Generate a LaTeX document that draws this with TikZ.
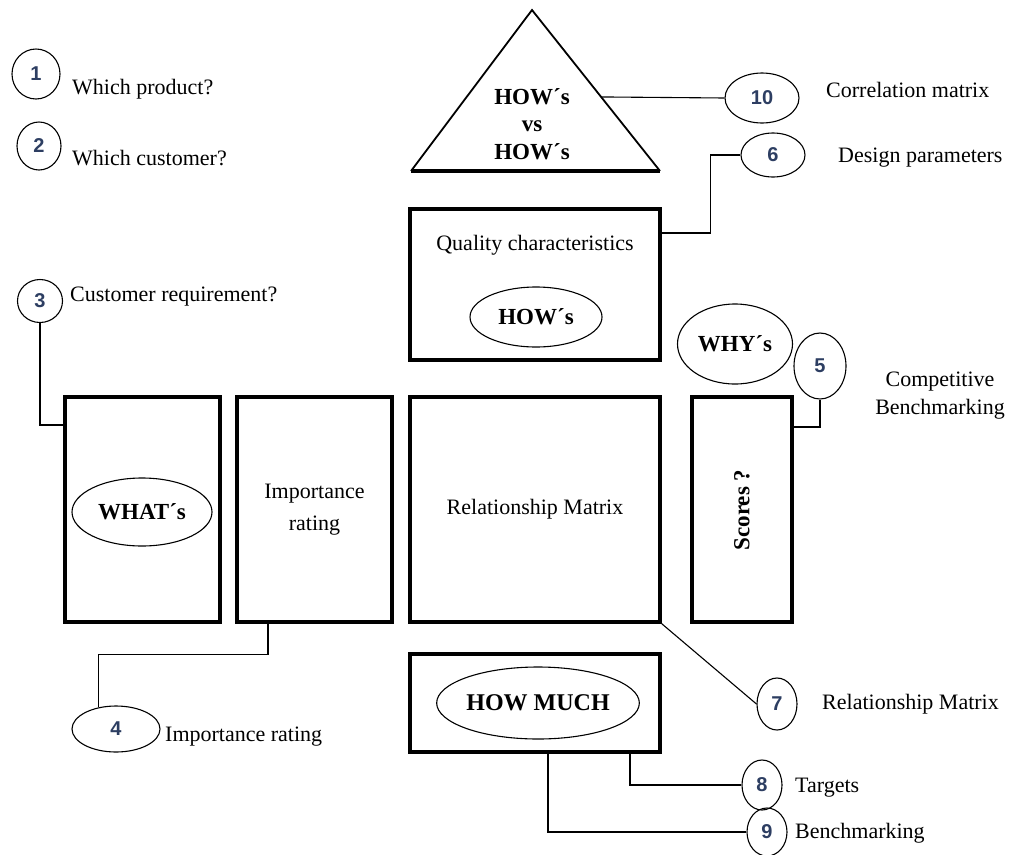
\documentclass[tikz,border=0pt]{standalone}
\usepackage{fontspec}
\setmainfont{Liberation Serif}
\newfontfamily\numfont{Liberation Sans}
\usetikzlibrary{positioning,shapes,calc}
\definecolor{numblue}{RGB}{45,62,98}

\tikzset{
  bigbox/.style={draw, line width=3.2pt, inner sep=0pt},
  oval/.style={draw, ellipse, line width=1.1pt, inner sep=0pt, font=\fontsize{23}{27}\selectfont\bfseries},
  numoval/.style={draw, ellipse, line width=1.1pt, inner sep=0pt, text=numblue, font=\numfont\fontsize{20}{23}\selectfont\bfseries},
  lbl/.style={anchor=west, inner sep=0pt, font=\fontsize{22}{26}\selectfont},
  link/.style={line width=1.1pt}
}

\begin{document}
\begin{tikzpicture}[x=1pt,y=-1pt]
      \useasboundingbox (0,0) rectangle (1017,854);
      \coordinate (apex) at (532,10);
      \coordinate (tl) at (411,171);
      \coordinate (tr) at (660,171);
      \draw[line width=1.8pt, line join=miter] (tl) -- (apex) -- (tr);
      \draw[line width=3.5pt] (tl) -- (tr);
      \node[align=center, font=\fontsize{23}{27.5}\selectfont\bfseries] (hvh) at (532,124) {HOW´s\\vs\\HOW´s};
      \coordinate (c10) at ($(apex)!0.54!(tr)$);

      \node[bigbox, minimum width=250pt, minimum height=151pt] (quality) at (535,284.5) {};
      \node[lbl, anchor=center] (qtext) at (535,245) {Quality characteristics};
      \node[oval, minimum width=132pt, minimum height=60pt] (hows) at (536,317) {HOW´s};
      \node[oval, minimum width=115pt, minimum height=80pt] (whys) at (735,344) {WHY´s};

      \node[bigbox, minimum width=155pt, minimum height=225pt] (what) at (142.5,509.5) {};
      \node[oval, minimum width=140pt, minimum height=68pt] (whats) at (142,512) {WHAT´s};
      \node[bigbox, minimum width=155pt, minimum height=225pt, align=center, font=\fontsize{22}{32}\selectfont] (imp) at (314.5,509.5) {Importance\\rating};
      \node[bigbox, minimum width=250pt, minimum height=225pt, font=\fontsize{22}{26}\selectfont] (rel) at (535,509.5) {Relationship Matrix};
      \node[bigbox, minimum width=100pt, minimum height=225pt] (scores) at (742,509.5) {};
      \node[rotate=90, font=\fontsize{23}{27}\selectfont\bfseries] (stext) at (742,510) {Scores ?};

      \node[bigbox, minimum width=250pt, minimum height=98pt] (much) at (535,703) {};
      \node[oval, minimum width=178pt, minimum height=72pt, font=\fontsize{24}{28}\selectfont\bfseries] (muchell) at (538,703) {HOW MUCH};

      \node[numoval, minimum width=48pt, minimum height=50pt] (n1) at (36,74) {1};
      \node[lbl] (t1) at (72,89) {Which product?};
      \node[numoval, minimum width=44pt, minimum height=48pt] (n2) at (39,146) {2};
      \node[lbl] (t2) at (72,158) {Which customer?};
      \node[numoval, minimum width=45pt, minimum height=43pt] (n3) at (40,301) {3};
      \node[lbl] (t3) at (70,297) {Customer requirement?};
      \node[numoval, minimum width=88pt, minimum height=46pt] (n4) at (116,729) {4};
      \node[lbl] (t4) at (165,737) {Importance rating};
      \node[numoval, minimum width=52pt, minimum height=66pt] (n5) at (820,366) {5};
      \node[lbl, anchor=center, align=center, font=\fontsize{22}{28}\selectfont] (t5) at (940,396) {Competitive\\Benchmarking};
      \node[numoval, minimum width=64pt, minimum height=44pt] (n6) at (773,155) {6};
      \node[lbl] (t6) at (838,158) {Design parameters};
      \node[numoval, minimum width=40pt, minimum height=52pt] (n7) at (777,704) {7};
      \node[lbl] (t7) at (822,704) {Relationship Matrix};
      \node[numoval, minimum width=40pt, minimum height=50pt] (n8) at (762,785) {8};
      \node[lbl] (t8) at (795,788) {Targets};
      \node[numoval, minimum width=40pt, minimum height=48pt] (n9) at (767,832) {9};
      \node[lbl] (t9) at (795,833) {Benchmarking};
      \node[numoval, minimum width=74pt, minimum height=50pt] (n10) at (762,98) {10};
      \node[lbl] (t10) at (826,90) {Correlation matrix};

      \draw[link] (c10) -- (n10.west);
      \draw[link] (n6.west) -- ++(-30,0) |- ([yshift=51.5pt]quality.east);
      \draw[link] (n3.south) |- ([yshift=84.5pt]what.west);
      \draw[link] ([xshift=-46.5pt]imp.south) -- ++(0,31) -| (n4.129);
      \draw[link] ([yshift=82.5pt]scores.east) -| (n5.south);
      \draw[link] (rel.south east) -- (n7.west);
      \draw[link] ([xshift=95pt]much.south) |- (n8.west);
      \draw[link] ([xshift=13pt]much.south) |- (n9.west);
\end{tikzpicture}
\end{document}
